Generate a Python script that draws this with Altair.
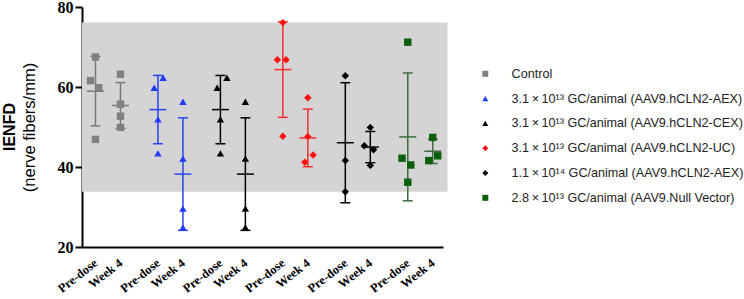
import altair as alt
import pandas as pd

groups = [
    "Control",
    "3.1\u2009×\u200910¹³ GC/animal (AAV9.hCLN2-AEX)",
    "3.1\u2009×\u200910¹³ GC/animal (AAV9.hCLN2-CEX)",
    "3.1\u2009×\u200910¹³ GC/animal (AAV9.hCLN2-UC)",
    "1.1\u2009×\u200910¹⁴ GC/animal (AAV9.hCLN2-AEX)",
    "2.8\u2009×\u200910¹³ GC/animal (AAV9.Null Vector)",
]
timepoints = ["Pre-dose", "Week 4"]

pre_values = [
    [67.5, 61.6, 59.8, 46.9],
    [62.3, 59.8, 51.9, 43.4],
    [62.3, 59.8, 51.9, 43.4],
    [76.1, 66.8, 66.8, 47.7],
    [62.8, 41.6, 33.8],
    [71.2, 42.2, 40.5, 36.2],
]
wk4_values = [
    [63.2, 55.7, 52.7, 49.9],
    [56.3, 42.1, 29.6, 24.9],
    [56.3, 42.1, 29.6, 24.9],
    [57.3, 47.6, 43.0, 41.2],
    [49.9, 45.3, 44.3, 40.4],
    [47.4, 42.8, 41.6],
]
# horizontal scatter of individual animals (in category units)
pre_jitter = [
    [0, -0.2, 0.13, 0],
    [0.21, -0.15, 0, 0],
    [0.26, -0.13, 0, 0],
    [0, -0.22, 0.13, 0],
    [0, 0, 0],
    [0, -0.23, 0.12, 0],
]
wk4_jitter = [
    [0, 0, 0, 0],
    [0, 0, 0, 0],
    [0, 0, 0, 0],
    [0, 0, 0.21, -0.12],
    [0, -0.24, 0.13, 0],
    [0, 0.2, -0.16],
]

point_colors = ["#808080", "#1f3cf5", "#000000", "#ff1010", "#000000", "#0b5e0b"]
bar_colors = ["#7a7a7a", "#2a45f0", "#000000", "#f03030", "#000000", "#3d6b3d"]
shapes = ["square", "triangle-up", "triangle-up", "diamond", "diamond", "square"]

rows = []
for gi, g in enumerate(groups):
    for t, (vals, jit) in enumerate([(pre_values[gi], pre_jitter[gi]), (wk4_values[gi], wk4_jitter[gi])]):
        for v, j in zip(vals, jit):
            rows.append({"group": g, "gi": gi, "t": t, "value": v, "jitter": j})
df = pd.DataFrame(rows)

XDOM = [-0.54, 13.91]
tick_vals = [g * 2.5 + t for g in range(len(groups)) for t in range(2)]

x_axis = alt.Axis(
    values=tick_vals,
    labelExpr="abs(datum.value % 2.5) < 0.01 ? 'Pre-dose' : 'Week 4'",
    title=None, ticks=False, tickSize=0, grid=False,
    domainColor="black", domainWidth=2,
    labelFont="Liberation Serif", labelFontWeight="bold", labelFontSize=12.5,
    labelColor="black", labelAngle=-38, labelAlign="right", labelBaseline="middle",
    labelPadding=14, labelOverlap=False,
)
y_axis = alt.Axis(
    values=[20, 40, 60, 80], title="(nerve fibers/mm)",
    titleFont="Liberation Sans", titleFontSize=16.5, titleFontWeight="normal",
    titleColor="black", titlePadding=20,
    grid=False, domainColor="black", domainWidth=2,
    tickColor="black", tickWidth=2, tickSize=7,
    labelFont="Liberation Serif", labelFontWeight="bold", labelFontSize=16,
    labelColor="black", labelPadding=2,
)
xs = alt.Scale(domain=XDOM, nice=False, zero=False)
ys = alt.Scale(domain=[20, 80], nice=False, zero=False)

base = alt.Chart(df)

band = base.transform_filter("datum.t == 0").transform_aggregate(
    lo="min(value)", hi="max(value)"
).mark_rect(color="#d4d4d4").encode(
    x=alt.datum(XDOM[0], type="quantitative", scale=xs, axis=x_axis),
    x2=alt.datum(14.09),
    y=alt.Y("lo:Q", scale=ys, axis=y_axis),
    y2="hi:Q",
)

stats = base.transform_aggregate(
    mean="mean(value)", sd="stdev(value)", groupby=["group", "gi", "t"]
).transform_calculate(
    p="datum.gi * 2.5 + datum.t",
    lo="datum.mean - datum.sd",
    hi="datum.mean + datum.sd",
    pl="datum.gi * 2.5 + datum.t - 0.2",
    pr="datum.gi * 2.5 + datum.t + 0.2",
    ml="datum.gi * 2.5 + datum.t - 0.34",
    mr="datum.gi * 2.5 + datum.t + 0.34",
)
stroke_enc = alt.Stroke(
    "gi:N", scale=alt.Scale(domain=list(range(len(groups))), range=bar_colors), legend=None
)

vbar = stats.mark_rule(strokeWidth=1.5).encode(
    x=alt.X("p:Q", axis=x_axis), y="lo:Q", y2="hi:Q", stroke=stroke_enc)
cap_hi = stats.mark_rule(strokeWidth=1.5).encode(
    x=alt.X("pl:Q", axis=x_axis), x2="pr:Q", y="hi:Q", stroke=stroke_enc)
cap_lo = stats.mark_rule(strokeWidth=1.5).encode(
    x=alt.X("pl:Q", axis=x_axis), x2="pr:Q", y="lo:Q", stroke=stroke_enc)
mean_line = stats.mark_rule(strokeWidth=1.5).encode(
    x=alt.X("ml:Q", axis=x_axis), x2="mr:Q", y="mean:Q", stroke=stroke_enc)

legend = alt.Legend(
    title=None, orient="none", legendX=397, legendY=60.5, padding=0,
    labelFont="Liberation Sans", labelFontSize=12.6, labelColor="#222222",
    symbolSize=36, symbolStrokeWidth=0, labelOffset=20, rowPadding=11.8,
    labelLimit=400,
)

pts = base.transform_calculate(
    px="datum.gi * 2.5 + datum.t + datum.jitter"
).mark_point(filled=True, size=55, opacity=1).encode(
    x=alt.X("px:Q", scale=xs, axis=x_axis),
    y=alt.Y("value:Q", scale=ys),
    color=alt.Color("group:N", scale=alt.Scale(domain=groups, range=point_colors), legend=legend),
    shape=alt.Shape("group:N", scale=alt.Scale(domain=groups, range=shapes), legend=legend),
)

chart = alt.layer(band, vbar, cap_hi, cap_lo, mean_line, pts).properties(
    width=361, height=240,
    autosize="none",
    padding={"left": 82, "top": 7, "right": 301, "bottom": 52},
    title=alt.TitleParams(
        "IENFD", orient="left", anchor="middle", font="Liberation Sans",
        fontSize=16, fontWeight="bold", color="black", offset=3,
    ),
).configure_view(stroke=None).configure_axisX(labelOverlap=False)

chart.save("out.html", embed_options={"renderer": "svg", "actions": False})
